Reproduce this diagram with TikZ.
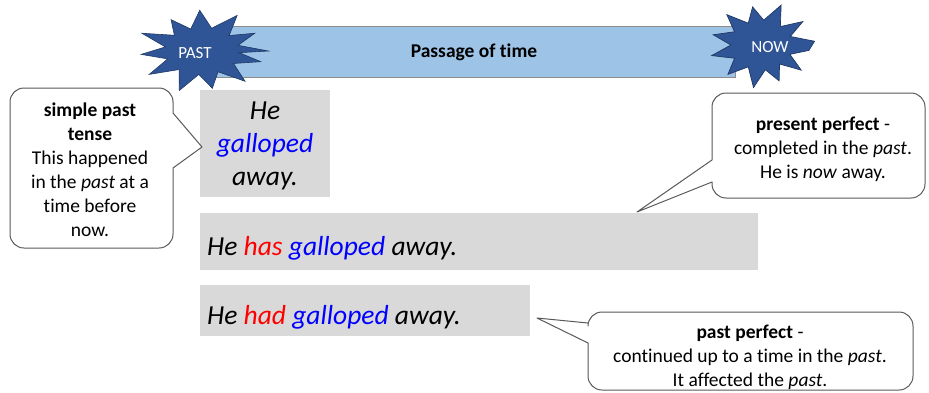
\documentclass[tikz,border=0pt]{standalone}
\usepackage{fontspec}
\setmainfont[Ligatures=NoCommon]{Carlito}
\usetikzlibrary{calc}
\definecolor{boxgray}{HTML}{D9D9D9}
\definecolor{barblue}{HTML}{9DC3E6}
\definecolor{barline}{HTML}{8C8C8C}
\definecolor{burstblue}{HTML}{2F5597}
\definecolor{burstedge}{HTML}{1F3864}
\definecolor{lineg}{HTML}{595959}
\definecolor{wred}{HTML}{FF0000}
\definecolor{wblue}{HTML}{0000FF}
\begin{document}
\begin{tikzpicture}[x=1pt,y=-1pt,
  graybox/.style={fill=boxgray,draw=none,inner sep=0pt,anchor=north west},
  callout/.style={draw=lineg,fill=white,line width=1pt,line join=round},
  burst/.style={fill=burstblue,draw=burstedge,line width=0.8pt,line join=miter},
  bursttext/.style={text=white,font=\fontsize{17}{20}\selectfont,inner sep=0pt},
  bigtext/.style={font=\fontsize{27.5}{33}\selectfont\itshape,inner sep=0pt},
  calltext/.style={font=\fontsize{19.5}{24}\selectfont,align=center,inner sep=0pt},
  bar/.style={fill=barblue,draw=barline,line width=0.8pt,inner sep=0pt,anchor=north west}]
\useasboundingbox (0,0) rectangle (929,392);

% time bar
\node[bar,minimum width=520pt,minimum height=51pt] (bar) at (215,26) {};
\node[font=\fontsize{19.5}{24}\selectfont\bfseries,inner sep=0pt] (bartxt) at (474,52) {Passage of time};

% gray sentence boxes
\node[graybox,minimum width=130pt,minimum height=107pt] (b1) at (200,90) {};
\node[graybox,minimum width=558pt,minimum height=57pt] (b2) at (200,213) {};
\node[graybox,minimum width=330pt,minimum height=51pt] (b3) at (200,285) {};

\node[bigtext,align=center] (s1) at (265,146) {He\\\textcolor{wblue}{galloped}\\away.};
\node[bigtext,anchor=base west] (s2) at (207,255) {He \textcolor{wred}{has} \textcolor{wblue}{galloped} away.};
\node[bigtext,anchor=base west] (s3) at (207,324) {He \textcolor{wred}{had} \textcolor{wblue}{galloped} away.};

% callout tips
\coordinate (t1) at (202,147);
\coordinate (t2) at (637,212);
\coordinate (t3) at (537,318);

% callout 1
\draw[callout] (90,88) [rounded corners=14pt] -- (173,88) [sharp corners] -- (173,113) -- (t1) -- (173,168) [rounded corners=14pt] -- (173,248) -- (10,248) -- (10,88) -- cycle;
\node[calltext] (c1) at (90,170) {\textbf{simple past}\\\textbf{tense}\\This happened\\in the \textit{past} at a\\time before\\now.};

% callout 2
\draw[callout] (820,93) [rounded corners=14pt] -- (925,93) -- (925,198) -- (712,198) [sharp corners] -- (712,182) -- (t2) -- (712,160) [rounded corners=14pt] -- (712,93) -- cycle;
\node[calltext] (c2) at (823,149) {\textbf{present perfect} -\\completed in the \textit{past}.\\He is \textit{now} away.};

% callout 3
\draw[callout] (750,312) [rounded corners=14pt] -- (913,312) -- (913,390) -- (588,390) [sharp corners] -- (588,343) -- (t3) -- (588,323) [rounded corners=14pt] -- (588,312) -- cycle;
\node[calltext] (c3) at (750,357) {\textbf{past perfect} -\\continued up to a time in the \textit{past}.\\It affected the \textit{past}.};

% bursts
\begin{scope}[shift={(202,51)},xscale=1.58]
\draw[burst,line width=0.6pt] (0:42pt)
  \foreach \a/\f in {14/.56,28/.9,42/.55,58/1.0,75/.56,92/.97,108/.55,122/.88,138/.56,155/1.0,170/.56,185/.92,200/.55,215/.97,232/.56,250/1.0,265/.56,280/.9,296/.55,312/.97,328/.56,344/.92,356/.56}
  { -- (\a:\f*42pt) } -- cycle;
\end{scope}
\node[bursttext] (past) at (195,53) {PAST};

\begin{scope}[shift={(761,45)},xscale=1.25]
\draw[burst,line width=0.7pt] (5:43pt)
  \foreach \a/\f in {20/.58,35/.95,50/.56,68/1.0,85/.58,100/.9,115/.56,132/.95,148/.58,165/.92,180/.56,195/.95,212/.58,228/.92,245/.56,262/1.0,278/.58,292/.9,308/.56,322/.95,338/.58,352/.9}
  { -- (\a:\f*43pt) } -- cycle;
\end{scope}
\node[bursttext] (now) at (770,47) {NOW};
\end{tikzpicture}
\end{document}
